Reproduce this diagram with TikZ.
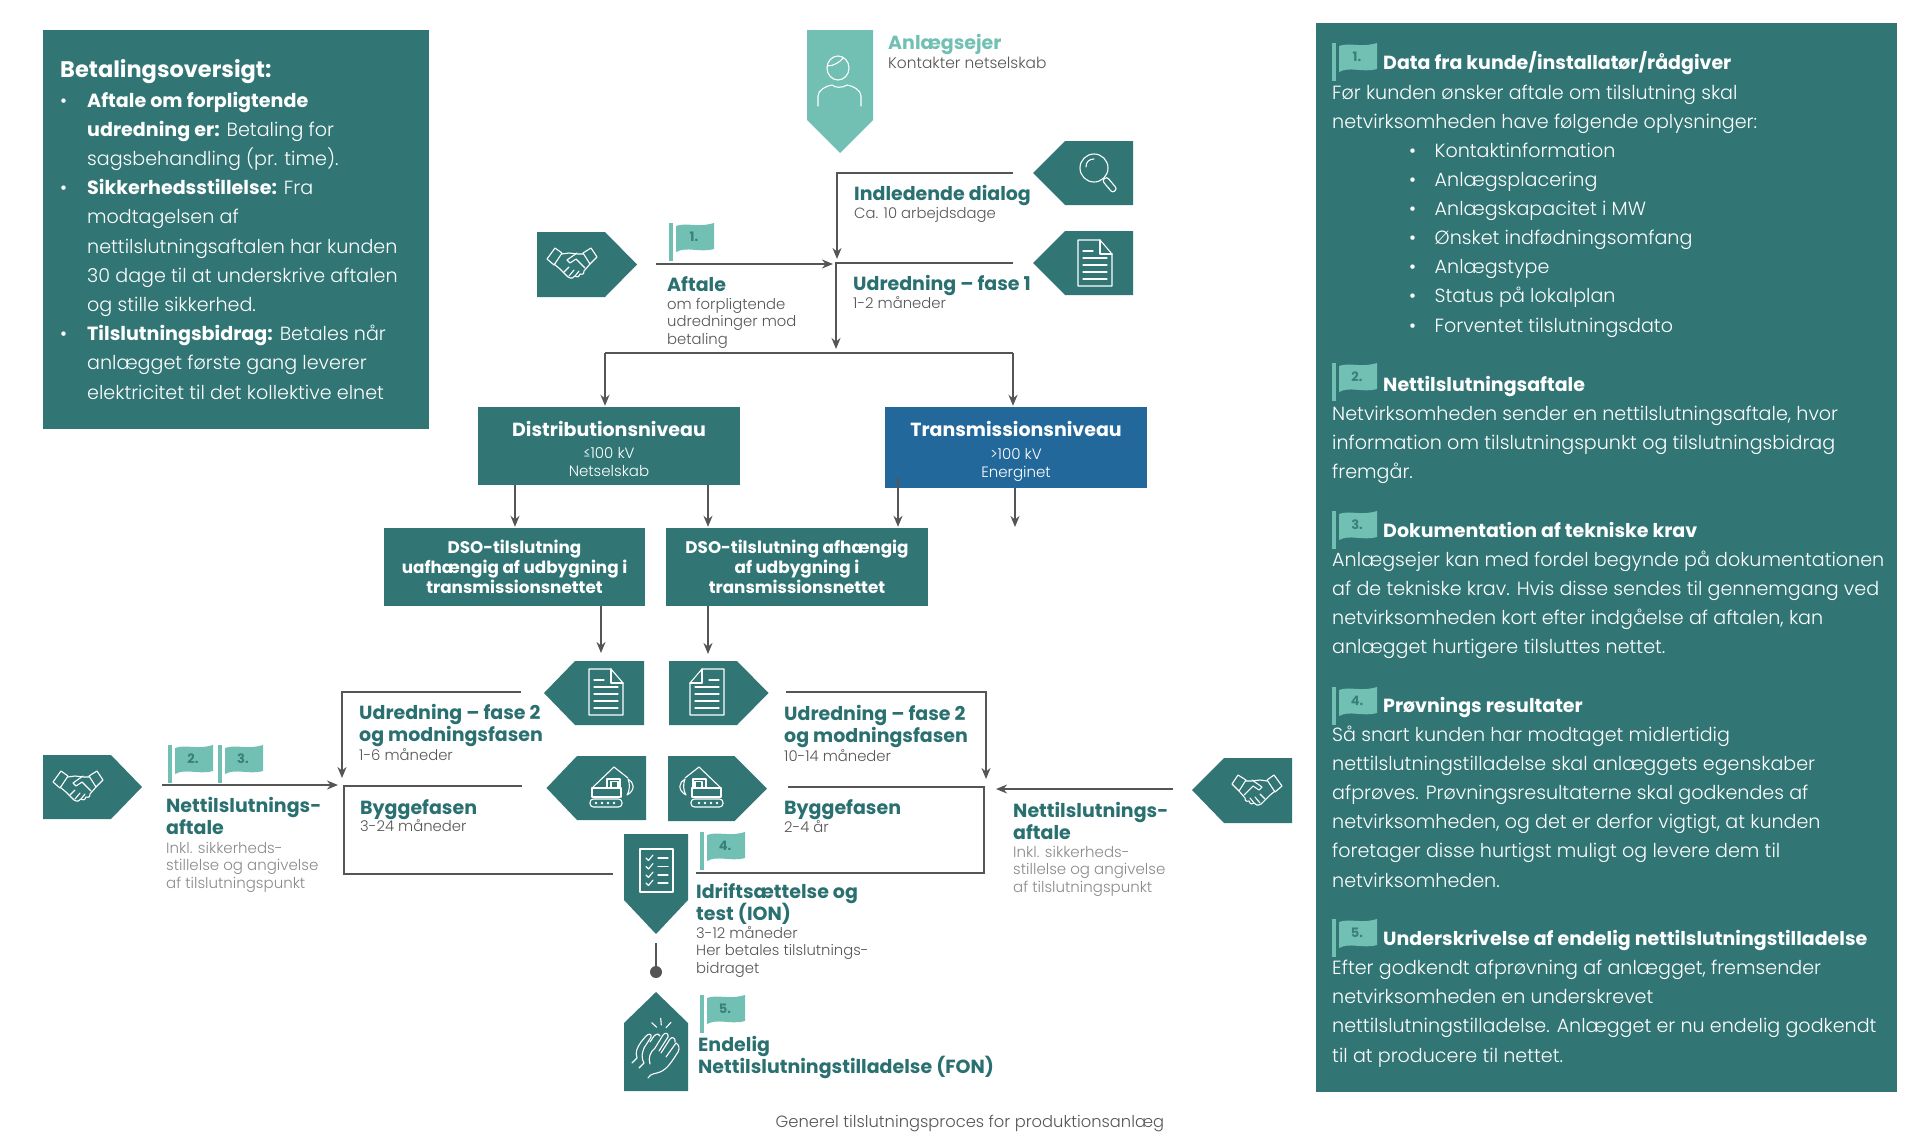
\documentclass[tikz,border=0pt]{standalone}
\usepackage{fontspec}
\setmainfont{Poppins}[UprightFont=* Light,BoldFont=* Bold]
\usetikzlibrary{arrows.meta,calc}
\definecolor{tealbox}{HTML}{317575}
\definecolor{tealhead}{HTML}{2A7070}
\definecolor{tealnum}{HTML}{3A7F7C}
\definecolor{mint}{HTML}{72C0B3}
\definecolor{bluebox}{HTML}{22689B}
\definecolor{linegray}{HTML}{555555}
\definecolor{txtgray}{HTML}{555555}
\definecolor{lightgray}{HTML}{8A8A8A}
\newcommand{\fs}[2]{\fontsize{#1}{#2}\selectfont\lineskiplimit=-50pt\relax}
\tikzset{
 x=1pt,y=-1pt,
 conn/.style={draw=linegray,line width=1.6pt},
 arr/.style={conn,-{Stealth[length=11pt,width=9pt,inset=3.5pt]},shorten >=1pt},
 panel/.style={anchor=base west,inner sep=0pt,align=left,text=white},
 heading/.style={anchor=base west,inner sep=0pt,align=left,text=tealhead,font=\bfseries\fs{19}{22}},
 subtxt/.style={anchor=base west,inner sep=0pt,align=left,text=txtgray,font=\fs{14.8}{17.5}},
 faint/.style={anchor=base west,inner sep=0pt,align=left,text=lightgray,font=\fs{15}{17.5}},
 boxt/.style={inner sep=0pt,align=center,text=white,fill=tealbox},
 icon/.style={draw=white,line width=1.1pt,line join=round,line cap=round},
 flagnum/.style={inner sep=0pt,text=tealnum,font=\bfseries\fs{13}{15}},
}
\newcommand{\flagmark}[4]{%
 \fill[mint] (#2,#3) rectangle ++(4,38);
 \fill[mint] (#2+7,#3+3) .. controls (#2+18,#3-1) and (#2+28,#3+5) .. (#2+45,#3) -- (#2+45,#3+26) .. controls (#2+30,#3+30) and (#2+18,#3+23) .. (#2+7,#3+29) -- cycle;
 \node[flagnum] (#1) at (#2+25,#3+14) {#4};}
\newcommand{\handshake}[2]{\begin{scope}[shift={(#1)},#2,icon]
 \draw (-25,-4) -- (-17,-15) -- (-10,-10) -- (-18,2) -- cycle;
 \draw (25,-6) -- (19,-15) -- (11,-10) -- (18,1) -- cycle;
 \draw (-10,-9) -- (-3,-10) -- (6,-9) -- (11,-9);
 \draw (5,-10) -- (-5,-3) -- (-2,0) -- (4,-4) -- (13,5);
 \draw (-18,1) -- (-12,6) -- (-4,14) .. controls (-1,16) and (2,15) .. (3,13) .. controls (6,15) and (8,13) .. (8,11) .. controls (11,12) and (13,10) .. (12,8) -- (18,1);
 \draw (-8,9) -- (-3,4); \draw (-3,13) -- (2,7); \draw (3,13) -- (7,8);
 \end{scope}}
\newcommand{\docicon}[2]{\begin{scope}[shift={(#1)},#2,icon]
 \draw (-17,-23) -- (5,-23) -- (17,-9) -- (17,23) -- (-17,23) -- cycle;
 \draw (5,-23) -- (5,-9) -- (17,-9);
 \draw (-12,-12) -- (-2,-12);
 \foreach \q in {-5,2,9,16} \draw (-12,\q) -- (12,\q);
 \end{scope}}
\newcommand{\excav}[2]{\begin{scope}[shift={(#1)},#2,icon]
 \draw[rounded corners=3.5pt] (-22,12) rectangle (10,20);
 \foreach \q in {-16,-10,-4,2} \fill[white,draw=none] (\q,16) circle (1.3);
 \draw (-20,1) rectangle (9,10);
 \draw (-5,1) -- (-5,-8) -- (8,-8) -- (8,1);
 \draw (-1,1) -- (-1,-5.5) -- (6,-5.5) -- (6,1);
 \draw (-20,1) -- (2,-20) -- (16,-9);
 \draw (16,-8) .. controls (22,-5) and (24,3) .. (15,8) .. controls (18,3) and (18,-3) .. (16,-8);
 \end{scope}}
\begin{document}
\begin{tikzpicture}
\useasboundingbox (0,0) rectangle (1926,1143);
% left panel
\fill[tealbox] (43,30) rectangle (429,429);
\node[panel,font=\fs{22.5}{24}\bfseries] (paytitle) at (60,77) {Betalingsoversigt:};
\node[panel,font=\fs{19.1}{29.2}] (paybody) at (60,399) {\makebox[27pt][l]{•}\textbf{Aftale om forpligtende}\\
\hspace*{27pt}\textbf{udredning er:} Betaling for\\
\hspace*{27pt}sagsbehandling (pr. time).\\
\makebox[27pt][l]{•}\textbf{Sikkerhedsstillelse:} Fra\\
\hspace*{27pt}modtagelsen af\\
\hspace*{27pt}nettilslutningsaftalen har kunden\\
\hspace*{27pt}30 dage til at underskrive aftalen\\
\hspace*{27pt}og stille sikkerhed.\\
\makebox[27pt][l]{•}\textbf{Tilslutningsbidrag:} Betales når\\
\hspace*{27pt}anlægget første gang leverer\\
\hspace*{27pt}elektricitet til det kollektive elnet};
% right panel
\fill[tealbox] (1316,23) rectangle (1897,1092);
\flagmark{pf1}{1332}{43}{1.}
\node[panel,font=\bfseries\fs{19}{22}] (ph1) at (1383,69) {Data fra kunde/installatør/rådgiver};
\node[panel,font=\fs{19.1}{29.1}] (pb1) at (1332,332) {Før kunden ønsker aftale om tilslutning skal\\
netvirksomheden have følgende oplysninger:\\
\hspace*{77pt}\makebox[25.5pt][l]{•}Kontaktinformation\\
\hspace*{77pt}\makebox[25.5pt][l]{•}Anlægsplacering\\
\hspace*{77pt}\makebox[25.5pt][l]{•}Anlægskapacitet i MW\\
\hspace*{77pt}\makebox[25.5pt][l]{•}Ønsket indfødningsomfang\\
\hspace*{77pt}\makebox[25.5pt][l]{•}Anlægstype\\
\hspace*{77pt}\makebox[25.5pt][l]{•}Status på lokalplan\\
\hspace*{77pt}\makebox[25.5pt][l]{•}Forventet tilslutningsdato};
\flagmark{pf2}{1332}{363}{2.}
\node[panel,font=\bfseries\fs{19}{22}] (ph2) at (1383,391) {Nettilslutningsaftale};
\node[panel,font=\fs{19.1}{29}] (pb2) at (1332,478) {Netvirksomheden sender en nettilslutningsaftale, hvor\\
information om tilslutningspunkt og tilslutningsbidrag\\
fremgår.};
\flagmark{pf3}{1332}{511}{3.}
\node[panel,font=\bfseries\fs{19}{22}] (ph3) at (1383,537) {Dokumentation af tekniske krav};
\node[panel,font=\fs{19.1}{29}] (pb3) at (1332,653) {Anlægsejer kan med fordel begynde på dokumentationen\\
af de tekniske krav. Hvis disse sendes til gennemgang ved\\
netvirksomheden kort efter indgåelse af aftalen, kan\\
anlægget hurtigere tilsluttes nettet.};
\flagmark{pf4}{1332}{687}{4.}
\node[panel,font=\bfseries\fs{19}{22}] (ph4) at (1383,712) {Prøvnings resultater};
\node[panel,font=\fs{19.1}{29.2}] (pb4) at (1332,887) {Så snart kunden har modtaget midlertidig\\
nettilslutningstilladelse skal anlæggets egenskaber\\
afprøves. Prøvningsresultaterne skal godkendes af\\
netvirksomheden, og det er derfor vigtigt, at kunden\\
foretager disse hurtigst muligt og levere dem til\\
netvirksomheden.};
\flagmark{pf5}{1332}{919}{5.}
\node[panel,font=\bfseries\fs{19}{22}] (ph5) at (1383,945) {Underskrivelse af endelig nettilslutningstilladelse};
\node[panel,font=\fs{19.1}{29.3}] (pb5) at (1332,1062) {Efter godkendt afprøvning af anlægget, fremsender\\
netvirksomheden en underskrevet\\
nettilslutningstilladelse. Anlægget er nu endelig godkendt\\
til at producere til nettet.};
% Anlaegsejer
\fill[mint] (807,30) -- (873,30) -- (873,120) -- (840,153) -- (807,120) -- cycle;
\begin{scope}[icon]
 \draw (838,68) ellipse (11 and 12);
 \draw (827,66) .. controls (834,66) and (840,62) .. (843,58);
 \draw (818,106) -- (818,96) .. controls (818,90) and (826,86) .. (832,85) .. controls (835,88) and (843,88) .. (847,85) .. controls (853,86) and (861,90) .. (861,96) -- (861,106);
\end{scope}
\node[anchor=base west,inner sep=0pt,text=mint,font=\bfseries\fs{19}{22}] (owner) at (888,49) {Anlægsejer};
\node[subtxt,font=\fs{15.4}{18}] (ownersub) at (888,68) {Kontakter netselskab};
% Indledende dialog
\fill[tealbox] (1033,173) -- (1065,141) -- (1133,141) -- (1133,205) -- (1065,205) -- cycle;
\begin{scope}[icon]
 \draw (1094,168) circle (14);
 \draw (1086,167) .. controls (1086,162) and (1089,159) .. (1094,159);
 \draw[rotate around={-50:(1109,184)},rounded corners=2.5pt] (1102,181) rectangle (1118,187);
\end{scope}
\coordinate (inA) at (1013,173); \coordinate (inB) at (837,173); \coordinate (inC) at (837,260);
\draw[arr] (inA) -- (inB) -- (inC);
\node[heading] (indl) at (854,200.5) {Indledende dialog};
\node[subtxt] (indlsub) at (854,218) {Ca. 10 arbejdsdage};
% Udredning fase 1
\fill[tealbox] (1033,263) -- (1065,231) -- (1133,231) -- (1133,295) -- (1065,295) -- cycle;
\docicon{1095,263}{}
\coordinate (udA) at (1013,263); \coordinate (udB) at (836,263); \coordinate (udC) at (836,350);
\draw[arr] (udA) -- (udB) -- (udC);
\node[heading] (ud1) at (853,290.5) {Udredning – fase 1};
\node[subtxt] (ud1sub) at (853,308) {1-2 måneder};
% Aftale
\fill[tealbox] (537,232) -- (605,232) -- (637,264.5) -- (605,297) -- (537,297) -- cycle;
\handshake{572,263}{}
\flagmark{fl1}{669}{223}{1.}
\coordinate (afA) at (656,264); \coordinate (afB) at (834,264);
\draw[arr] (afA) -- (afB);
\node[heading] (aft) at (667,291.5) {Aftale};
\node[subtxt] (aftsub) at (667,344) {om forpligtende\\udredninger mod\\betaling};
% Boxes
\node[boxt,font=\fs{15}{18},minimum width=262pt,minimum height=78pt] (dist) at (609,446) {\rule{0pt}{21.5pt}{\bfseries\fs{19}{22}Distributionsniveau}\\[4.5pt]≤100 kV\\Netselskab};
\node[boxt,font=\fs{15}{18},fill=bluebox,minimum width=262pt,minimum height=81pt] (trans) at (1016,447.5) {\rule{0pt}{23.5pt}{\bfseries\fs{19}{22}Transmissionsniveau}\\[4.5pt]>100 kV\\Energinet};
\node[boxt,font=\bfseries\fs{16.8}{20},minimum width=261pt,minimum height=78pt] (dso1) at (514.5,567) {DSO-tilslutning\\uafhængig af udbygning i\\transmissionsnettet};
\node[boxt,font=\bfseries\fs{16.8}{20},minimum width=262pt,minimum height=78pt] (dso2) at (797,567) {DSO-tilslutning afhængig\\af udbygning i\\transmissionsnettet};
% fork
\coordinate (fkL) at (605,353); \coordinate (fkR) at (1013,353);
\draw[conn] (fkL) -- (fkR);
\draw[arr] (fkL) -- (dist.north -| fkL);
\draw[arr] (fkR) -- (trans.north -| fkR);
\coordinate (xa) at (515,0); \coordinate (xb) at (708,0); \coordinate (xc) at (898,478); \coordinate (xd) at (1015,0); \coordinate (xe) at (601,0);
\coordinate (eTr) at (1015,528);
\draw[arr] (dist.south -| xa) -- (dso1.north -| xa);
\draw[arr] (dist.south -| xb) -- (dso2.north -| xb);
\draw[arr] (xc) -- (dso2.north -| xc);
\draw[arr] (trans.south -| xd) -- (eTr);
\coordinate (doc1t) at (601,654); \coordinate (doc2t) at (708,655);
\draw[arr] (dso1.south -| xe) -- (doc1t);
\draw[arr] (dso2.south -| xb) -- (doc2t);
% left route
\fill[tealbox] (544,693) -- (575,661) -- (644,661) -- (644,725) -- (575,725) -- cycle;
\docicon{606,692}{}
\coordinate (l1A) at (521,692); \coordinate (l1B) at (342,692); \coordinate (l1C) at (342,779);
\draw[arr] (l1A) -- (l1B) -- (l1C);
\node[heading] (ud2l) at (359,741) {Udredning – fase 2\\og modningsfasen};
\node[subtxt] (ud2lsub) at (359,760) {1-6 måneder};
\fill[tealbox] (546.5,788) -- (577,756) -- (646,756) -- (646,820) -- (577,820) -- cycle;
\excav{612,787}{}
\coordinate (l2A) at (522,786); \coordinate (l2B) at (344,786); \coordinate (l2C) at (344,874); \coordinate (l2D) at (613,874);
\draw[conn] (l2A) -- (l2B) -- (l2C) -- (l2D);
\node[heading] (byl) at (360,814) {Byggefasen};
\node[subtxt] (bylsub) at (360,831) {3-24 måneder};
\fill[tealbox] (43,755) -- (111,755) -- (142,787) -- (111,819) -- (43,819) -- cycle;
\handshake{78,786}{}
\flagmark{fl2}{168}{745}{2.}
\flagmark{fl3}{218}{745}{3.}
\coordinate (naA) at (162,785); \coordinate (naB) at (339,785);
\draw[arr] (naA) -- (naB);
\node[heading] (nal) at (166,834) {Nettilslutnings-\\aftale};
\node[faint] (nalsub) at (166,888) {Inkl. sikkerheds-\\stillelse  og angivelse\\af tilslutningspunkt};
% right route
\fill[tealbox] (669,661) -- (737,661) -- (768.5,693) -- (737,725) -- (669,725) -- cycle;
\docicon{707,692}{xscale=-1}
\coordinate (r1A) at (786,692); \coordinate (r1B) at (986,692); \coordinate (r1C) at (986,780);
\draw[arr] (r1A) -- (r1B) -- (r1C);
\node[heading] (ud2r) at (784,742) {Udredning – fase 2\\og modningsfasen};
\node[subtxt] (ud2rsub) at (784,761) {10-14 måneder};
\fill[tealbox] (668,756) -- (734.5,756) -- (767,788.5) -- (734.5,821) -- (668,821) -- cycle;
\excav{701,787}{xscale=-1}
\coordinate (r2A) at (788,787); \coordinate (r2B) at (984,787); \coordinate (r2C) at (984,873); \coordinate (r2D) at (696,873);
\draw[conn] (r2A) -- (r2B) -- (r2C) -- (r2D);
\node[heading] (byr) at (784,814) {Byggefasen};
\node[subtxt] (byrsub) at (784,832) {2-4 år};
\fill[tealbox] (1192,790) -- (1224,758) -- (1292,758) -- (1292,823) -- (1224,823) -- cycle;
\handshake{1257,790}{xscale=-1}
\coordinate (nrA) at (1173,789); \coordinate (nrB) at (995,789);
\draw[arr] (nrA) -- (nrB);
\node[heading] (nar) at (1013,839) {Nettilslutnings-\\aftale};
\node[faint] (narsub) at (1013,892) {Inkl. sikkerheds-\\stillelse  og angivelse\\af tilslutningspunkt};
% ION
\fill[tealbox] (624,834) -- (688,834) -- (688,900) -- (656,934) -- (624,900) -- cycle;
\begin{scope}[icon]
 \draw (640,849) rectangle (673,892);
 \foreach \q in {858,866.5,875,883} {\draw (646,\q) -- (648.5,\q+2.5) -- (653,\q-3); \draw (658,\q) -- (668,\q);}
\end{scope}
\flagmark{fl4}{700}{832}{4.}
\node[heading] (ion) at (696,920) {Idriftsættelse og\\test (ION)};
\node[subtxt] (ionsub) at (696,973) {3-12 måneder\\Her betales tilslutnings-\\bidraget};
\coordinate (ionB) at (656,943);
\node[circle,fill=linegray,inner sep=0pt,minimum size=12pt] (dot) at (656,972) {};
\draw[conn] (ionB) -- (dot);
% FON
\fill[tealbox] (656,992) -- (688,1023) -- (688,1091) -- (624,1091) -- (624,1023) -- cycle;
\begin{scope}[icon]
 \draw (651.7,1022.7) -- (656.7,1027.3); \draw (660.7,1018.3) -- (661.3,1025); \draw (671,1022.3) -- (666,1027.7);
 \draw (648,1078) .. controls (651,1073) and (655,1074) .. (660,1072) .. controls (668,1069) and (674,1058) .. (678,1052) .. controls (680,1048) and (679,1045) .. (676,1043) -- (666,1057);
 \draw (655,1048) -- (663,1035) .. controls (665,1032) and (669,1033) .. (668,1037) -- (659,1051);
 \draw (661,1053) -- (670,1039) .. controls (672,1036) and (676,1038) .. (675,1042);
 \draw (655,1048) .. controls (650,1052) and (648,1058) .. (650,1064);
 \draw (632,1063) -- (637,1058) .. controls (635,1052) and (637,1048) .. (641,1042) -- (646,1036) .. controls (649,1033) and (652,1034) .. (651,1037) -- (644,1048);
 \draw (650,1042) -- (654,1036) .. controls (657,1033) and (660,1034) .. (660,1036);
 \draw (639,1068) -- (644,1063) .. controls (641,1058) and (642,1053) .. (644,1048);
\end{scope}
\flagmark{fl5}{700}{995}{5.}
\node[heading] (fon) at (698,1073) {Endelig\\Nettilslutningstilladelse (FON)};
\node[anchor=base west,inner sep=0pt,text=txtgray,font=\fs{16.3}{18}] (caption) at (775.5,1127) {Generel tilslutningsproces for produktionsanlæg};
\end{tikzpicture}
\end{document}
